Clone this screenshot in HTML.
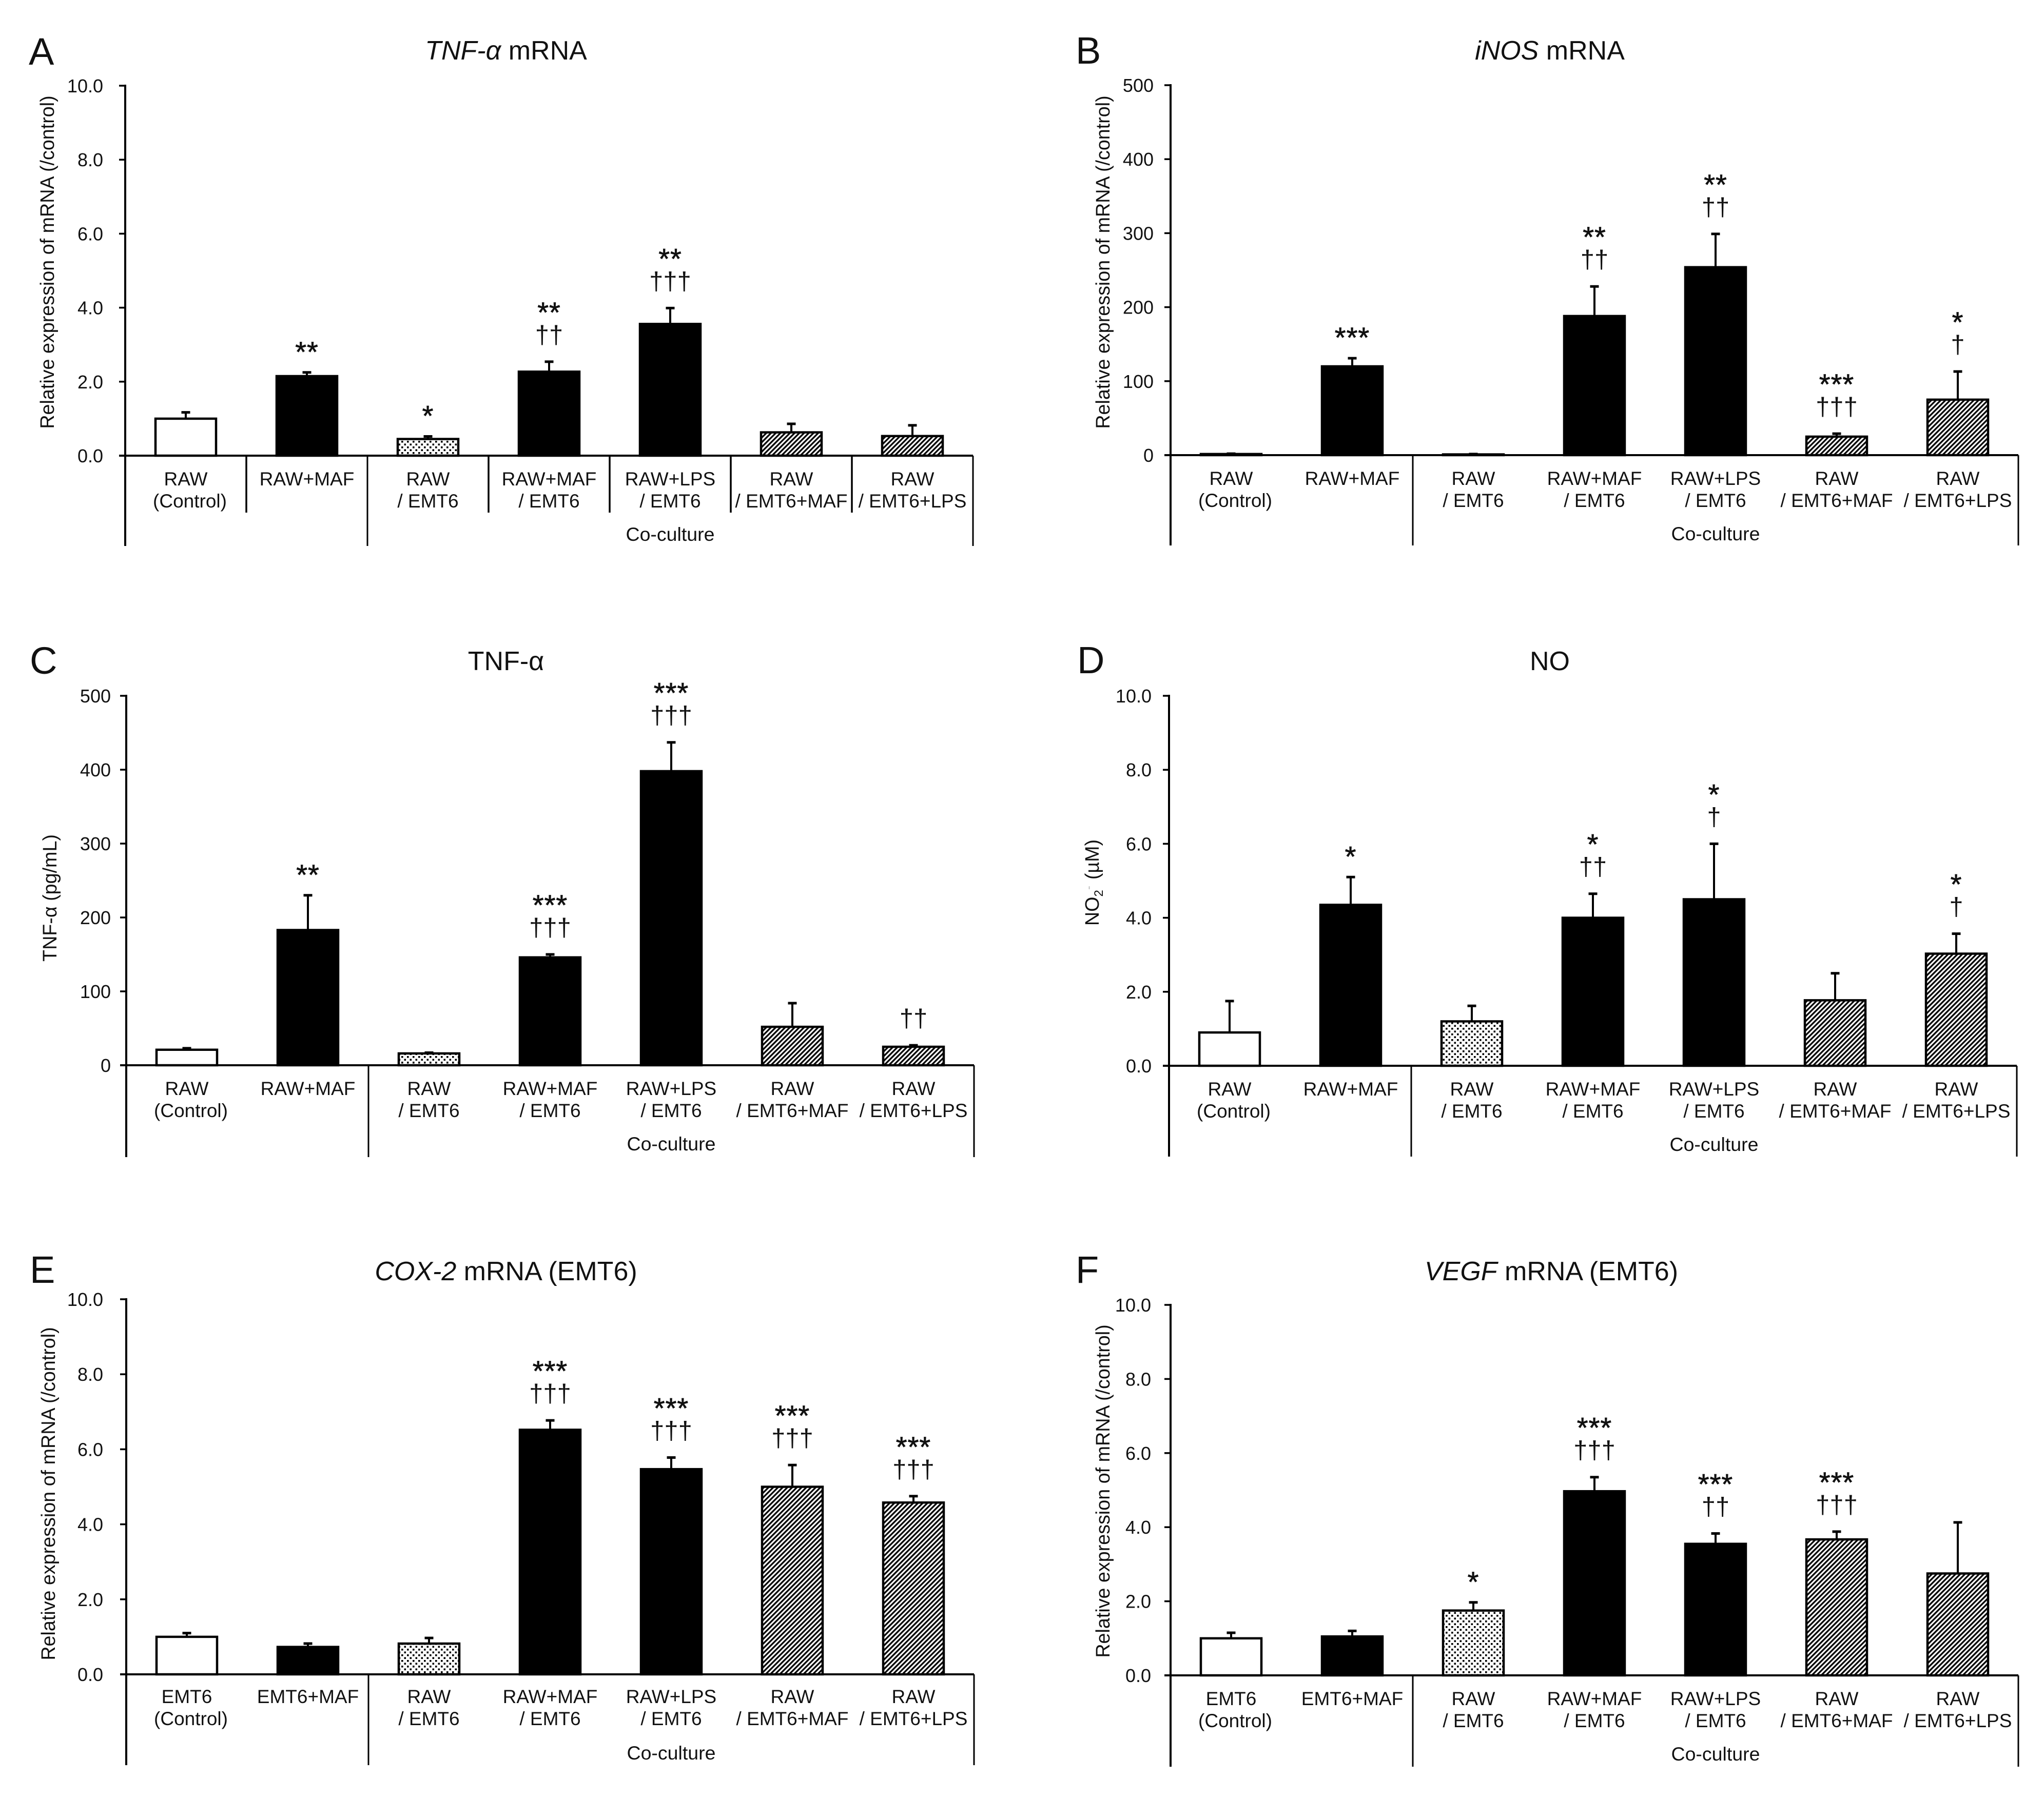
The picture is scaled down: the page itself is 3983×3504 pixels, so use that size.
<!DOCTYPE html>
<html lang="en">
<head>
<meta charset="utf-8">
<title>Macrophage and EMT6 co-culture expression charts</title>
<style>
  html, body { margin: 0; padding: 0; background: #fff; }
  svg { display: block; }
  text { font-family: "Liberation Sans", sans-serif; fill: #111; }
</style>
</head>
<body>
<svg id="figure" xmlns="http://www.w3.org/2000/svg" width="3983" height="3504" viewBox="0 0 3983 3504">
  <defs>
    <pattern id="hatch-fill" patternUnits="userSpaceOnUse" width="6.5" height="6.5" patternTransform="rotate(45)">
      <rect width="6.5" height="6.5" fill="#fff"></rect>
      <rect width="3.3" height="6.5" fill="#000"></rect>
    </pattern>
    <pattern id="dot-fill" patternUnits="userSpaceOnUse" width="11" height="11">
      <rect width="11" height="11" fill="#fff"></rect>
      <rect x="1" y="1" width="3.6" height="3.6" fill="#000"></rect>
      <rect x="6.5" y="6.5" width="3.6" height="3.6" fill="#000"></rect>
    </pattern>
  </defs>
</svg>
<script>
// ---- Shared categories and tick labels ----
const rawCategories = [["RAW", "(Control)"], ["RAW+MAF"], ["RAW", "/ EMT6"], ["RAW+MAF", "/ EMT6"], ["RAW+LPS", "/ EMT6"], ["RAW", "/ EMT6+MAF"], ["RAW", "/ EMT6+LPS"]];
const emt6Categories = [["EMT6", "(Control)"], ["EMT6+MAF"], ["RAW", "/ EMT6"], ["RAW+MAF", "/ EMT6"], ["RAW+LPS", "/ EMT6"], ["RAW", "/ EMT6+MAF"], ["RAW", "/ EMT6+LPS"]];
const ratioTicks = ["0.0", "2.0", "4.0", "6.0", "8.0", "10.0"];
const countTicks = ["0", "100", "200", "300", "400", "500"];

// ---- Panel A: TNF-alpha mRNA ----
const panelAValues = [1.0, 2.15, 0.45, 2.27, 3.56, 0.63, 0.53];
const panelAErrors = [0.17, 0.10, 0.07, 0.27, 0.43, 0.23, 0.29];
const panelAStars = [0, 2, 1, 2, 2, 0, 0];
const panelADaggers = [0, 0, 0, 2, 3, 0, 0];

// ---- Panel B: iNOS mRNA ----
const panelBValues = [1.5, 120, 1, 188, 254, 25, 75];
const panelBErrors = [0.5, 11, 0.5, 40, 45, 4, 38];
const panelBStars = [0, 3, 0, 2, 2, 3, 1];
const panelBDaggers = [0, 0, 0, 2, 2, 3, 1];

// ---- Panel C: TNF-alpha protein ----
const panelCValues = [21, 183, 16, 146, 398, 52, 25];
const panelCErrors = [2, 47, 1, 4, 39, 32, 2];
const panelCStars = [0, 2, 0, 3, 3, 0, 0];
const panelCDaggers = [0, 0, 0, 3, 3, 0, 2];

// ---- Panel D: NO ----
const panelDValues = [0.9, 4.35, 1.2, 4.0, 4.5, 1.77, 3.03];
const panelDErrors = [0.85, 0.75, 0.42, 0.65, 1.5, 0.73, 0.54];
const panelDStars = [0, 1, 0, 1, 1, 0, 1];
const panelDDaggers = [0, 0, 0, 2, 1, 0, 1];

// ---- Panel E: COX-2 mRNA (EMT6) ----
const panelEValues = [1.0, 0.73, 0.82, 6.52, 5.47, 5.0, 4.58];
const panelEErrors = [0.1, 0.09, 0.15, 0.25, 0.31, 0.58, 0.17];
const panelEStars = [0, 0, 0, 3, 3, 3, 3];
const panelEDaggers = [0, 0, 0, 3, 3, 3, 3];

// ---- Panel F: VEGF mRNA (EMT6) ----
const panelFValues = [1.0, 1.05, 1.75, 4.97, 3.55, 3.67, 2.75];
const panelFErrors = [0.15, 0.15, 0.22, 0.38, 0.28, 0.21, 1.38];
const panelFStars = [0, 0, 1, 3, 3, 3, 0];
const panelFDaggers = [0, 0, 0, 3, 2, 3, 0];

// Bar fill by group position (style, not data)
const barFills = ["#fff", "#000", "url(#dot-fill)", "#000", "#000", "url(#hatch-fill)", "url(#hatch-fill)"];

const svg = document.getElementById("figure");
const NS = "http://www.w3.org/2000/svg";

function make(tag, attrs, parent, content) {
  const el = document.createElementNS(NS, tag);
  for (const k in attrs) el.setAttribute(k, attrs[k]);
  if (content !== undefined) el.textContent = content;
  parent.appendChild(el);
  return el;
}
function line(parent, x1, y1, x2, y2, w) {
  return make("line", { x1: x1, y1: y1, x2: x2, y2: y2, stroke: "#000", "stroke-width": w }, parent);
}

const layouts = [
  { id: "a", letter: "A", lx: 56, ly: 126, tx: 986, ty: 116, axisX: 244, top: 167, y0: 888, bottom: 1064, tickGap: 43, labelX: 92, labelY: 511, rowShift: 0 },
  { id: "b", letter: "B", lx: 2096, ly: 124, tx: 3020, ty: 116, axisX: 2281, top: 166, y0: 887, bottom: 1063, tickGap: 33, labelX: 2149, labelY: 511, rowShift: 0 },
  { id: "c", letter: "C", lx: 58, ly: 1313, tx: 986, ty: 1306, axisX: 246, top: 1356, y0: 2076, bottom: 2255, tickGap: 30, labelX: 97, labelY: 1750, rowShift: 0 },
  { id: "d", letter: "D", lx: 2099, ly: 1312, tx: 3020, ty: 1306, axisX: 2278, top: 1356, y0: 2077, bottom: 2254, tickGap: 34, labelX: 2128, labelY: 1720, rowShift: 0 },
  { id: "e", letter: "E", lx: 58, ly: 2500, tx: 986, ty: 2495, axisX: 246, top: 2532, y0: 3263, bottom: 3440, tickGap: 45, labelX: 94, labelY: 2911, rowShift: -2 },
  { id: "f", letter: "F", lx: 2096, ly: 2500, tx: 3023, ty: 2495, axisX: 2281, top: 2543, y0: 3265, bottom: 3443, tickGap: 38, labelX: 2149, labelY: 2906, rowShift: 0 }
];

const CELL = 236;
const BAR_W = 118;

function yScale(p, value) {
  return p.y0 - (value / p.max) * (p.y0 - p.top);
}
function xCenter(p, i) {
  return p.axisX + CELL * (i + 0.5);
}

function drawPanel(p) {
  const g = make("g", {}, svg);
  
  

  const letter = make("text", { x: p.lx, y: p.ly, "font-size": 74 }, g, p.letter);
  
  

  const title = make("text", { x: p.tx, y: p.ty, "font-size": 52, "text-anchor": "middle" }, g);
  
  
  make("tspan", { "font-style": p.titleItalic ? "italic" : "normal" }, title, p.titleMain);
  if (p.titleRest) make("tspan", {}, title, p.titleRest);

  const yLabel = make("text", { x: p.labelX + 13, y: p.labelY, "font-size": 37.7, "text-anchor": "middle", transform: `rotate(-90 ${p.labelX + 13} ${p.labelY})` }, g);
  
  
  if (p.id === "d") {
    yLabel.setAttribute("xml:space", "preserve");
    make("tspan", {}, yLabel, "NO");
    make("tspan", { "font-size": 24, dy: 8 }, yLabel, "2");
    make("tspan", { "font-size": 24, dy: -20, fill: "#bbb" }, yLabel, "-");
    make("tspan", { dy: 12, dx: 12 }, yLabel, "(µM)");
  } else {
    yLabel.textContent = p.yTitle;
  }

  const right = p.axisX + CELL * 7;
  line(g, p.axisX, p.top - 2, p.axisX, p.bottom, 4);
  line(g, p.axisX - 12, p.y0, right, p.y0, 4);
  line(g, right, p.y0, right, p.bottom, 3);
  line(g, p.axisX + CELL * 2, p.y0, p.axisX + CELL * 2, p.bottom, 3);
  if (p.id === "a") {
    [1, 3, 4, 5, 6].forEach(function (k) {
      const sep = line(g, p.axisX + CELL * k, p.y0, p.axisX + CELL * k, p.y0 + 111, 3.5);
      
    });
  }

  p.ticks.forEach(function (t) {
    const y = yScale(p, Number(t));
    const tick = line(g, p.axisX - 12, y, p.axisX, y, 3.5);
    
    
    const lab = make("text", { x: p.axisX - p.tickGap, y: y + 13, "font-size": 36, "text-anchor": "end" }, g, t);
    
    
  });

  p.categories.forEach(function (cat, i) {
    const cx = xCenter(p, i);
    const v = p.values[i];
    const errTop = yScale(p, v + p.errors[i]);
    const barTop = yScale(p, v);

    const stem = line(g, cx, barTop, cx, errTop, 4);
    
    
    const cap = line(g, cx - 8.5, errTop, cx + 8.5, errTop, 5);
    
    

    const bar = make("rect", { x: cx - BAR_W / 2, y: barTop, width: BAR_W, height: p.y0 - barTop, fill: barFills[i], stroke: "#000", "stroke-width": 4.5 }, g);
    
    

    cat.forEach(function (textLine, r) {
      const shift = textLine === "(Control)" ? 8 : 0;
      const lab = make("text", { x: cx + shift, y: p.y0 + 58 + p.rowShift + r * 43, "font-size": 37, "text-anchor": "middle" }, g, textLine);
      
      
    });

    const nStars = p.stars[i];
    const nDaggers = p.daggers[i];
    if (nDaggers > 0) {
      const dag = make("text", { x: cx, y: errTop - 36, "font-size": 49, "text-anchor": "middle" }, g, "†".repeat(nDaggers));
      
      
    }
    if (nStars > 0) {
      const baseOffset = nDaggers > 0 ? 77 : 21;
      const star = make("text", { x: cx, y: errTop - baseOffset, "font-size": 56, "letter-spacing": 1, stroke: "#111", "stroke-width": 0.8, "text-anchor": "middle" }, g, "*".repeat(nStars));
      
      
    }
  });

  const co = make("text", { x: (p.axisX + CELL * 2 + right) / 2, y: p.y0 + 166, "font-size": 37.5, "text-anchor": "middle" }, g, "Co-culture");
  
  
}

const mrnaTitle = "Relative expression of mRNA (/control)";
const panelContent = {
  a: { titleMain: "TNF-α", titleRest: " mRNA", titleItalic: true, yTitle: mrnaTitle, max: 10, ticks: ratioTicks, categories: rawCategories, values: panelAValues, errors: panelAErrors, stars: panelAStars, daggers: panelADaggers },
  b: { titleMain: "iNOS", titleRest: " mRNA", titleItalic: true, yTitle: mrnaTitle, max: 500, ticks: countTicks, categories: rawCategories, values: panelBValues, errors: panelBErrors, stars: panelBStars, daggers: panelBDaggers },
  c: { titleMain: "TNF-α", titleRest: "", titleItalic: false, yTitle: "TNF-α (pg/mL)", max: 500, ticks: countTicks, categories: rawCategories, values: panelCValues, errors: panelCErrors, stars: panelCStars, daggers: panelCDaggers },
  d: { titleMain: "NO", titleRest: "", titleItalic: false, yTitle: "", max: 10, ticks: ratioTicks, categories: rawCategories, values: panelDValues, errors: panelDErrors, stars: panelDStars, daggers: panelDDaggers },
  e: { titleMain: "COX-2", titleRest: " mRNA (EMT6)", titleItalic: true, yTitle: mrnaTitle, max: 10, ticks: ratioTicks, categories: emt6Categories, values: panelEValues, errors: panelEErrors, stars: panelEStars, daggers: panelEDaggers },
  f: { titleMain: "VEGF", titleRest: " mRNA (EMT6)", titleItalic: true, yTitle: mrnaTitle, max: 10, ticks: ratioTicks, categories: emt6Categories, values: panelFValues, errors: panelFErrors, stars: panelFStars, daggers: panelFDaggers }
};

layouts.forEach(function (layout) {
  drawPanel(Object.assign({}, layout, panelContent[layout.id]));
});
</script>
</body>
</html>
